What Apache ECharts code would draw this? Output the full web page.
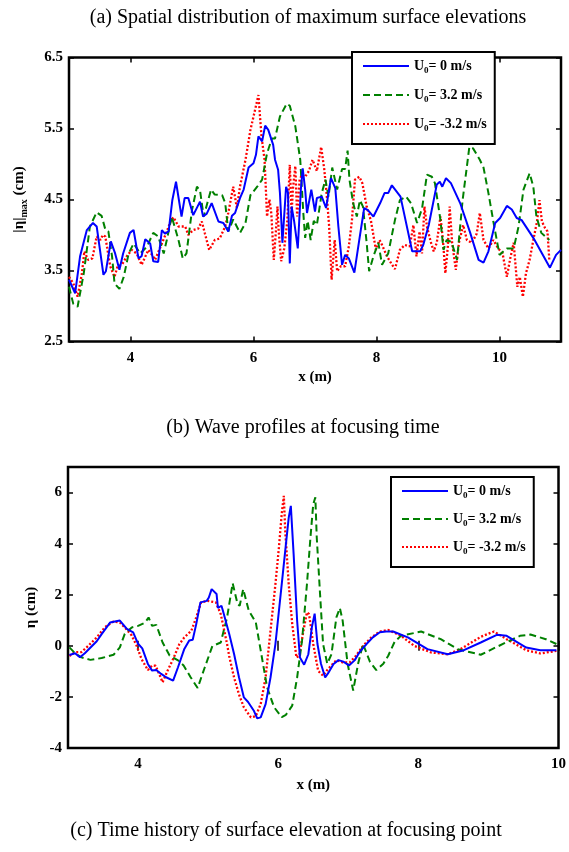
<!DOCTYPE html>
<html><head><meta charset="utf-8">
<script src="https://cdn.jsdelivr.net/npm/echarts@6/dist/echarts.min.js"></script>
<style>html,body{margin:0;padding:0;background:#fff;}#c{width:569px;height:852px;}</style>
</head><body><div id="c"></div>
<script>
// ---------- data ----------
const seriesNames = ['U0= 0 m/s', 'U0= 3.2 m/s', 'U0= -3.2 m/s'];

// (a) maximum surface elevations |eta|max (cm) vs x (m)
const aX_U0 = [3.00,3.10,3.18,3.29,3.39,3.45,3.56,3.60,3.68,3.75,3.82,3.88,3.99,4.05,4.13,4.18,4.24,4.32,4.37,4.45,4.51,4.56,4.62,4.68,4.74,4.83,4.88,4.94,5.02,5.13,5.18,5.24,5.32,5.43,5.51,5.59,5.65,5.70,5.78,5.84,5.92,6.00,6.04,6.08,6.14,6.19,6.24,6.32,6.35,6.40,6.43,6.47,6.50,6.53,6.56,6.59,6.62,6.66,6.72,6.77,6.80,6.84,6.87,6.94,7.00,7.03,7.11,7.18,7.26,7.33,7.38,7.44,7.49,7.55,7.64,7.72,7.80,7.86,7.95,8.06,8.13,8.19,8.25,8.39,8.58,8.71,8.76,8.85,8.98,9.03,9.07,9.13,9.21,9.36,9.52,9.66,9.74,9.82,9.93,10.01,10.12,10.20,10.28,10.36,10.55,10.71,10.82,10.92,11.00];
const aY_U0 = [3.37,3.18,3.70,4.07,4.17,4.12,3.44,3.49,3.91,3.74,3.51,3.74,4.03,4.07,3.67,3.70,3.94,3.88,3.63,3.62,4.07,4.02,4.05,4.49,4.75,4.26,4.52,4.52,4.28,4.47,4.26,4.30,4.45,4.19,4.17,4.05,4.27,4.31,4.52,4.64,4.95,5.01,5.13,5.39,5.32,5.54,5.48,5.27,5.06,4.92,4.59,3.89,3.89,4.68,4.60,3.60,4.40,4.20,3.81,4.64,4.94,4.64,4.31,4.64,4.33,4.52,4.54,4.38,4.80,4.66,4.12,3.58,3.72,3.67,3.47,3.93,4.38,4.35,4.26,4.45,4.59,4.59,4.70,4.54,3.77,3.77,3.86,4.14,4.71,4.75,4.68,4.80,4.73,4.45,4.04,3.65,3.61,3.77,4.17,4.24,4.41,4.36,4.24,4.21,3.96,3.71,3.54,3.72,3.79];

const aX_U32 = [3.00,3.07,3.14,3.24,3.34,3.45,3.53,3.59,3.64,3.70,3.74,3.82,3.89,3.97,4.05,4.16,4.27,4.37,4.45,4.54,4.59,4.67,4.78,4.85,4.91,5.00,5.08,5.13,5.19,5.24,5.31,5.37,5.49,5.54,5.59,5.67,5.78,5.87,5.95,6.06,6.14,6.22,6.30,6.35,6.43,6.54,6.59,6.68,6.76,6.81,6.84,6.88,6.93,6.98,7.03,7.11,7.17,7.22,7.28,7.36,7.44,7.49,7.53,7.56,7.62,7.68,7.73,7.78,7.84,7.88,7.95,8.03,8.09,8.19,8.30,8.38,8.48,8.56,8.66,8.74,8.82,8.90,8.95,9.04,9.09,9.14,9.22,9.31,9.40,9.51,9.57,9.68,9.74,9.82,9.90,10.00,10.12,10.23,10.31,10.39,10.49,10.55,10.60,10.68,10.77,10.81];
const aY_U32 = [3.27,3.03,2.99,3.46,4.12,4.32,4.27,4.08,4.05,3.70,3.32,3.24,3.41,3.74,3.88,3.74,3.84,4.03,3.98,3.74,3.93,4.26,3.93,3.67,3.74,4.35,4.68,4.63,4.26,4.42,4.64,4.57,4.56,4.45,4.05,4.22,4.03,4.17,4.56,4.68,4.78,5.15,5.36,5.36,5.67,5.85,5.82,5.53,5.06,4.31,3.96,4.20,3.93,4.20,4.14,4.59,4.78,4.54,4.95,4.64,4.93,4.93,5.19,4.78,4.45,4.26,4.49,4.40,3.89,3.49,3.70,3.89,3.58,3.74,4.21,4.49,4.54,4.45,4.17,4.37,4.85,4.82,4.73,4.21,3.79,3.93,3.90,3.65,4.49,5.24,5.22,5.06,4.95,4.59,4.19,3.72,3.81,3.81,4.12,4.64,4.87,4.68,4.26,4.03,3.96,3.93];

const aX_Um32 = [3.00,3.07,3.14,3.21,3.25,3.31,3.38,3.45,3.51,3.55,3.59,3.67,3.74,3.79,3.86,3.94,4.02,4.10,4.18,4.29,4.35,4.40,4.51,4.59,4.66,4.70,4.78,4.89,4.94,5.02,5.10,5.16,5.21,5.28,5.37,5.45,5.54,5.59,5.67,5.73,5.78,5.87,5.95,6.03,6.08,6.13,6.18,6.22,6.26,6.29,6.33,6.36,6.39,6.41,6.45,6.50,6.55,6.59,6.62,6.64,6.68,6.71,6.75,6.79,6.84,6.90,6.96,7.03,7.10,7.15,7.19,7.23,7.27,7.32,7.36,7.42,7.49,7.55,7.60,7.65,7.72,7.77,7.84,7.91,7.99,8.05,8.09,8.17,8.24,8.30,8.38,8.46,8.54,8.60,8.65,8.70,8.74,8.78,8.82,8.88,8.93,8.98,9.04,9.08,9.12,9.16,9.19,9.23,9.29,9.34,9.41,9.47,9.55,9.63,9.68,9.74,9.82,9.90,9.98,10.05,10.12,10.17,10.23,10.29,10.33,10.38,10.43,10.49,10.55,10.61,10.65,10.69,10.74,10.78,10.81];
const aY_Um32 = [3.41,3.32,3.13,3.46,3.77,3.65,3.67,3.98,3.93,4.00,3.98,3.56,3.41,3.56,3.58,3.70,3.79,3.74,3.58,3.79,3.72,3.65,3.88,4.05,4.21,4.25,4.12,4.12,4.00,4.07,4.09,4.19,4.02,3.79,3.93,3.95,4.12,4.31,4.68,4.38,4.68,5.06,5.48,5.78,5.97,5.39,5.06,4.26,4.50,4.30,3.65,4.00,4.40,4.05,3.63,3.81,4.20,4.99,4.30,4.64,4.97,4.26,4.78,4.85,4.82,4.90,5.06,4.90,5.24,4.93,4.57,4.12,3.37,3.93,3.49,3.56,3.56,3.84,4.20,4.78,4.82,4.73,4.40,4.20,3.79,3.93,3.86,3.70,3.60,3.52,3.79,3.86,3.84,4.14,3.70,4.05,3.74,4.40,4.12,3.91,3.77,3.89,4.26,3.93,3.46,3.84,4.40,3.89,3.51,3.89,4.14,3.93,3.89,4.02,4.31,3.93,3.81,3.93,3.81,3.74,3.41,3.65,3.89,3.27,3.41,3.13,3.46,3.65,3.93,4.19,4.49,4.19,4.10,4.05,3.65];

// (b) wave profiles at focusing time, eta (cm) vs x (m)
const bX_U0 = [3.02,3.10,3.17,3.24,3.41,3.48,3.60,3.74,3.84,3.93,4.00,4.06,4.14,4.20,4.26,4.33,4.40,4.50,4.57,4.66,4.73,4.78,4.83,4.89,4.98,5.01,5.05,5.12,5.14,5.19,5.21,5.30,5.37,5.44,5.51,5.57,5.65,5.70,5.75,5.82,5.89,5.96,6.03,6.10,6.15,6.18,6.22,6.27,6.31,6.37,6.43,6.48,6.52,6.56,6.61,6.67,6.71,6.79,6.86,6.93,7.01,7.09,7.16,7.26,7.35,7.45,7.54,7.64,7.85,8.13,8.42,8.65,8.89,9.12,9.26,9.54,9.74,9.97];
const bY_U0 = [-0.36,-0.29,-0.45,-0.29,0.18,0.46,0.91,0.99,0.66,0.53,0.08,-0.10,-0.71,-0.97,-0.95,-1.10,-1.23,-1.36,-0.84,-0.12,0.21,0.24,0.85,1.70,1.76,1.89,2.22,2.03,1.48,1.57,1.38,0.47,-0.32,-1.23,-2.02,-2.20,-2.53,-2.84,-2.80,-2.28,-1.24,0.07,1.89,3.72,5.02,5.48,3.59,0.98,-0.46,-0.74,-0.33,0.72,1.26,0.07,-0.70,-1.24,-1.08,-0.71,-0.56,-0.62,-0.77,-0.57,-0.25,0.07,0.33,0.53,0.56,0.56,0.33,-0.13,-0.33,-0.17,0.13,0.43,0.39,-0.07,-0.17,-0.17];

const bX_U32 = [3.02,3.10,3.19,3.32,3.48,3.65,3.74,3.81,3.91,4.00,4.10,4.15,4.20,4.26,4.35,4.45,4.57,4.65,4.75,4.85,4.95,5.06,5.18,5.27,5.35,5.42,5.45,5.50,5.58,5.68,5.75,5.84,5.94,6.05,6.11,6.20,6.27,6.34,6.41,6.46,6.50,6.53,6.55,6.60,6.64,6.70,6.76,6.83,6.88,6.92,6.99,7.07,7.14,7.21,7.31,7.40,7.50,7.57,7.66,7.75,8.04,8.32,8.56,8.89,9.12,9.45,9.60,9.82,9.97];
const bY_U32 = [-0.06,-0.29,-0.45,-0.55,-0.48,-0.35,-0.06,0.47,0.72,0.78,0.91,1.11,0.78,0.82,0.13,-0.38,-0.57,-0.77,-1.23,-1.65,-0.86,-0.01,0.13,1.11,2.45,1.63,1.57,2.22,1.38,0.92,-0.18,-1.61,-2.40,-2.79,-2.70,-2.34,-1.24,0.21,2.41,4.24,5.55,5.81,4.24,1.89,0.07,-0.70,-0.33,1.11,1.48,0.98,-0.70,-1.75,-0.70,0.07,-0.63,-0.95,-0.70,-0.39,0.15,0.39,0.56,0.26,-0.13,-0.35,-0.04,0.39,0.44,0.26,0.07];

const bX_Um32 = [3.02,3.10,3.19,3.29,3.41,3.53,3.65,3.74,3.81,3.91,3.98,4.05,4.14,4.20,4.25,4.31,4.35,4.42,4.50,4.59,4.66,4.76,4.83,4.90,4.99,5.11,5.18,5.27,5.30,5.37,5.44,5.51,5.61,5.68,5.75,5.82,5.89,5.96,6.01,6.05,6.08,6.10,6.15,6.20,6.26,6.30,6.36,6.41,6.44,6.50,6.57,6.64,6.71,6.83,6.92,7.02,7.11,7.21,7.33,7.45,7.57,7.75,7.94,8.18,8.42,8.60,8.89,9.08,9.26,9.54,9.74,9.97];
const bY_Um32 = [-0.40,-0.25,-0.25,0.00,0.33,0.74,0.95,0.91,0.72,0.40,0.00,-0.52,-0.95,-0.77,-0.78,-1.16,-1.43,-0.98,-0.52,0.07,0.33,0.59,1.11,1.70,1.76,1.70,1.24,0.07,-0.40,-1.24,-1.90,-2.41,-2.80,-2.75,-2.28,-1.24,0.59,2.41,3.85,5.16,5.87,4.50,2.41,0.85,-0.46,-0.39,0.59,1.31,1.24,0.07,-0.98,-1.17,-0.91,-0.56,-0.65,-0.65,-0.39,0.00,0.33,0.56,0.62,0.40,0.00,-0.26,-0.33,-0.13,0.35,0.56,0.26,-0.17,-0.30,-0.20];

// tick labels
const aXTicks = [4, 6, 8, 10];
const aYTicks = [2.5, 3.5, 4.5, 5.5, 6.5];
const bXTicks = [4, 6, 8, 10];
const bYTicks = [-4, -2, 0, 2, 4, 6];

const titles = ['(a) Spatial distribution of maximum surface elevations',
                '(b) Wave profiles at focusing time',
                '(c) Time history of surface elevation at focusing point'];

// ---------- chart ----------
const pair = (xs, ys) => xs.map((x, i) => [x, ys[i]]);
const FONT = '"Liberation Serif", "Times New Roman", serif';
const colors = ['#0000ff', '#008000', '#ff0000'];
const lineTypes = ['solid', [7, 4], [2, 2]];
const lineWidths = [2, 2, 2.3];

const chart = echarts.init(document.getElementById('c'), null, {renderer: 'canvas'});

const labelStyle = {fontFamily: FONT, fontWeight: 'bold', fontSize: 15, color: '#000'};
const nameStyle = {
  fontFamily: FONT, fontWeight: 'bold', fontSize: 15, color: '#000',
  rich: {
    t: {fontFamily: FONT, fontWeight: 'bold', fontSize: 15, color: '#000'},
    sub: {fontFamily: FONT, fontWeight: 'bold', fontSize: 10, color: '#000', padding: [10, 0, 0, 0]}
  }
};

function mainX(gi, ticks, min, max, gap) {
  return {
    type: 'value', gridIndex: gi, min: min, max: max, position: 'bottom',
    name: 'x (m)', nameLocation: 'middle', nameGap: gap, nameTextStyle: labelStyle,
    axisLine: {show: false},
    axisTick: {show: true, inside: true, length: 5, lineStyle: {color: '#000', width: 1.5}, customValues: ticks},
    axisLabel: {show: true, margin: 9, customValues: ticks, ...labelStyle},
    splitLine: {show: false}
  };
}
function topX(gi, ticks, min, max) {
  return {
    type: 'value', gridIndex: gi, min: min, max: max, position: 'top',
    axisLine: {show: false},
    axisTick: {show: true, inside: true, length: 5, lineStyle: {color: '#000', width: 1.5}, customValues: ticks},
    axisLabel: {show: false}, splitLine: {show: false}
  };
}
function mainY(gi, ticks, min, max, name, gap, fmt) {
  return {
    type: 'value', gridIndex: gi, min: min, max: max, position: 'left',
    name: name, nameLocation: 'middle', nameGap: gap, nameRotate: 90, nameTextStyle: nameStyle,
    axisLine: {show: false},
    axisTick: {show: true, inside: true, length: 5, lineStyle: {color: '#000', width: 1.5}, customValues: ticks},
    axisLabel: {show: true, margin: 6, customValues: ticks, formatter: fmt, ...labelStyle},
    splitLine: {show: false}
  };
}
function rightY(gi, ticks, min, max) {
  return {
    type: 'value', gridIndex: gi, min: min, max: max, position: 'right',
    axisLine: {show: false},
    axisTick: {show: true, inside: true, length: 5, lineStyle: {color: '#000', width: 1.5}, customValues: ticks},
    axisLabel: {show: false}, splitLine: {show: false}
  };
}

const legendRich = {
  t: {fontFamily: FONT, fontWeight: 'bold', fontSize: 14, color: '#000'},
  sub: {fontFamily: FONT, fontWeight: 'bold', fontSize: 9, color: '#000', padding: [9, 0, 0, 0]}
};
function legend(left, top, gap) {
  return {
    orient: 'vertical', left: left, top: top,
    data: seriesNames,
    itemWidth: 46, itemHeight: 14, itemGap: gap,
    padding: [7, 8, 11, 10],
    backgroundColor: '#fff', borderColor: '#000', borderWidth: 2,
    selectedMode: false,
    itemStyle: {opacity: 0},
    lineStyle: {width: 2},
    textStyle: {fontFamily: FONT, fontWeight: 'bold', fontSize: 14, color: '#000', rich: legendRich},
    formatter: n => '{t|U}{sub|0}{t|' + n.slice(2) + '}'
  };
}

const aData = [pair(aX_U0, aY_U0), pair(aX_U32, aY_U32), pair(aX_Um32, aY_Um32)];
const bData = [pair(bX_U0, bY_U0), pair(bX_U32, bY_U32), pair(bX_Um32, bY_Um32)];
const series = [];
[aData, bData].forEach((set, gi) => {
  set.forEach((d, k) => {
    series.push({
      type: 'line', name: seriesNames[k], xAxisIndex: gi * 2, yAxisIndex: gi * 2,
      data: d, showSymbol: false, symbol: 'none', smooth: false, animation: false,
      lineStyle: {color: colors[k], width: lineWidths[k], type: lineTypes[k]},
      itemStyle: {color: colors[k]}, z: 3 + (2 - k)
    });
  });
});

const option = {
  backgroundColor: '#fff',
  animation: false,
  grid: [
    {left: 69, top: 57.5, width: 492, height: 284, show: true, borderColor: '#000', borderWidth: 2.5, containLabel: false},
    {left: 68, top: 467, width: 494, height: 281, show: true, borderColor: '#000', borderWidth: 2.5, containLabel: false}
  ],
  xAxis: [
    mainX(0, aXTicks, 3, 11, 28), topX(0, aXTicks, 3, 11),
    mainX(1, bXTicks, 3, 10, 30), topX(1, bXTicks, 3, 10)
  ],
  yAxis: [
    mainY(0, aYTicks, 2.5, 6.5, '|η|{sub|max}{t| (cm)}', 40, v => v.toFixed(1)), rightY(0, aYTicks, 2.5, 6.5),
    mainY(1, bYTicks, -4, 7, 'η (cm)', 27, v => String(v)), rightY(1, bYTicks, -4, 7)
  ],
  legend: [legend(352, 52, 13), legend(391, 477, 12)],
  graphic: [
    {type: 'text', x: 308, y: 18, style: {text: titles[0], font: '20px ' + FONT, fill: '#000', align: 'center', verticalAlign: 'middle'}},
    {type: 'text', x: 303, y: 428, style: {text: titles[1], font: '20px ' + FONT, fill: '#000', align: 'center', verticalAlign: 'middle'}},
    {type: 'text', x: 286, y: 831, style: {text: titles[2], font: '20px ' + FONT, fill: '#000', align: 'center', verticalAlign: 'middle'}}
  ],
  series: series
};
chart.setOption(option);
</script>
</body></html>
